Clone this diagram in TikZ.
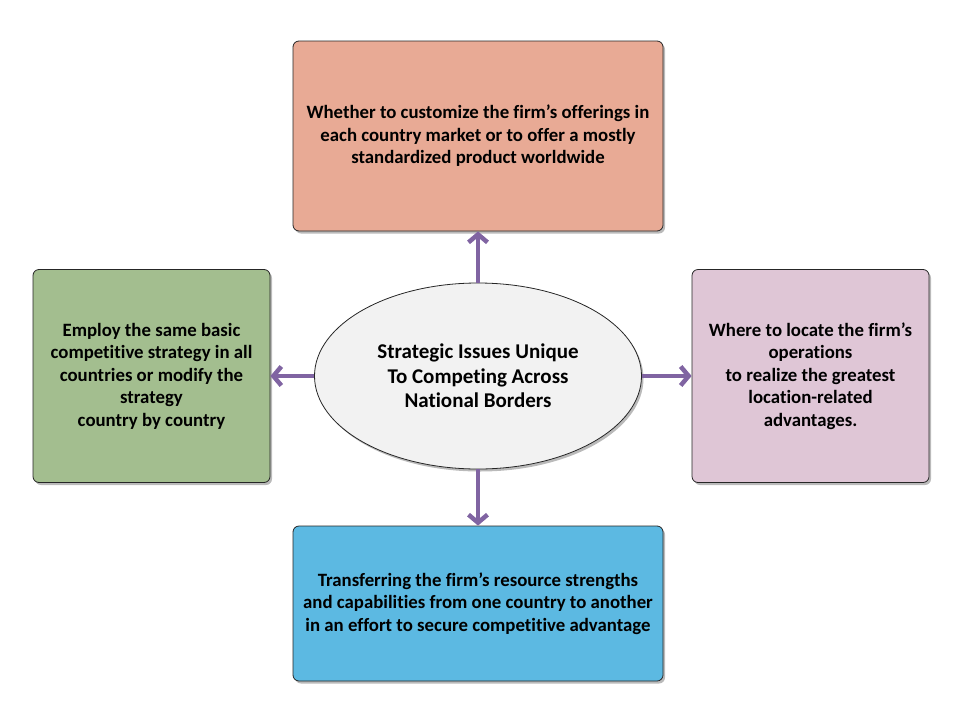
\documentclass[tikz,border=0pt]{standalone}
\usepackage{fontspec}
\setmainfont{Carlito}[Ligatures=NoCommon]
\usetikzlibrary{shapes.geometric,shadows,arrows.meta}
\definecolor{issuefill}{RGB}{242,242,242}
\definecolor{topfill}{RGB}{232,170,149}
\definecolor{leftfill}{RGB}{163,190,143}
\definecolor{rightfill}{RGB}{223,198,214}
\definecolor{bottomfill}{RGB}{92,185,226}
\definecolor{linkcolor}{RGB}{128,100,162}
\begin{document}
\begin{tikzpicture}[x=1pt,y=-1pt,
    box/.style={draw=black!85, line width=0.8pt, rounded corners=6pt, align=center,
      inner sep=0pt, font=\fontsize{18.8}{22.5}\selectfont\bfseries,
      drop shadow={shadow xshift=2pt, shadow yshift=-2.5pt, opacity=0.45, fill=black!60}},
    link/.style={draw=linkcolor, line width=4.5pt, -{Straight Barb[length=8pt,width=19pt]}}]
    \useasboundingbox (0,0) rectangle (960,720);

    %Centre
    \node[box, ellipse, fill=issuefill, minimum width=327, minimum height=186,
      font=\fontsize{21}{24.5}\selectfont\bfseries] (Issues) at (478,376)
      {Strategic Issues Unique\\To Competing Across\\National Borders};

    %Boxes
    \node[box, fill=topfill, minimum width=370, minimum height=190] (Offerings) at (478,136)
      {Whether to customize the firm’s offerings in\\each country market or to offer a mostly\\standardized product worldwide};
    \node[box, fill=leftfill, minimum width=237, minimum height=213] (Strategy) at (151.5,376)
      {Employ the same basic\\competitive strategy in all\\countries or modify the\\strategy\\country by country};
    \node[box, fill=rightfill, minimum width=237, minimum height=213] (Location) at (810.5,376)
      {Where to locate the firm’s\\operations\\to realize the greatest\\location-related\\advantages.};
    \node[box, fill=bottomfill, minimum width=370, minimum height=155] (Transfer) at (478,603.5)
      {Transferring the firm’s resource strengths\\and capabilities from one country to another\\in an effort to secure competitive advantage};

    \draw[link] (Issues) -- (Offerings);
    \draw[link] (Issues) -- (Strategy);
    \draw[link] (Issues) -- (Location);
    \draw[link] (Issues) -- (Transfer);
  \end{tikzpicture}
\end{document}
